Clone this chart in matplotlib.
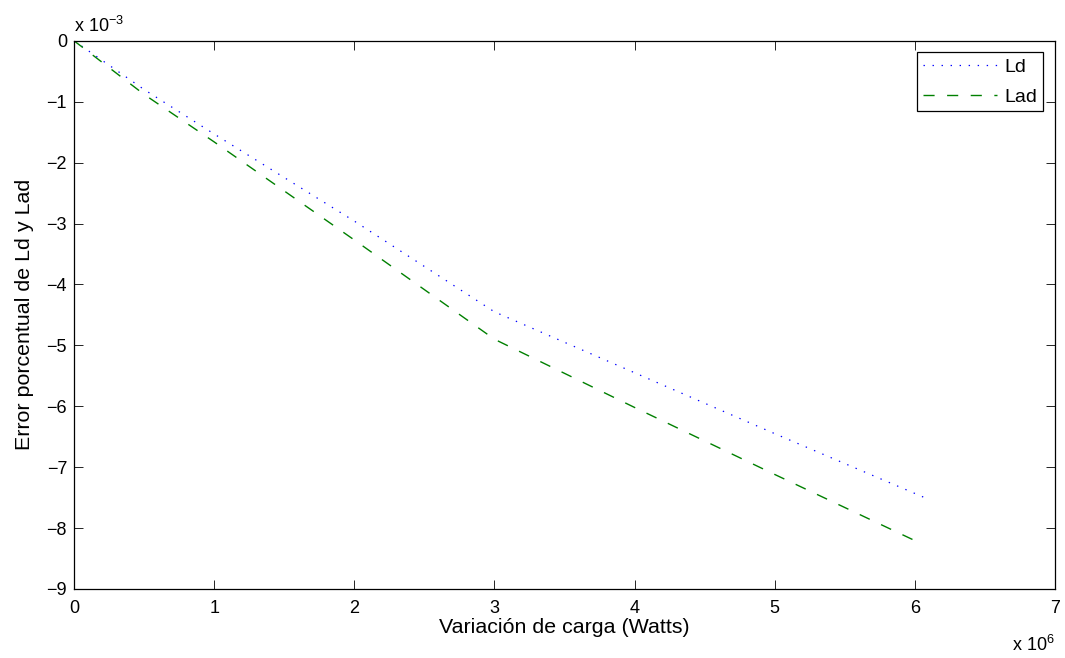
import matplotlib

matplotlib.use("Agg")
import matplotlib.pyplot as plt

# Load variation (x 10^6 W) and percent error (x 10^-3)
carga_ld = [0, 0.5, 1, 2, 3, 4, 5, 6.1]
error_ld = [0, -0.80, -1.53, -2.96, -4.45, -5.45, -6.45, -7.53]

carga_lad = [0, 0.5, 1, 2, 3, 4, 5, 6.05]
error_lad = [0, -0.88, -1.66, -3.27, -4.90, -6.02, -7.12, -8.26]

x_ticks = [0, 1, 2, 3, 4, 5, 6, 7]
y_ticks = [0, -1, -2, -3, -4, -5, -6, -7, -8, -9]

plt.rcParams["font.family"] = ["Liberation Sans", "DejaVu Sans"]
plt.rcParams["mathtext.fontset"] = "custom"
plt.rcParams["mathtext.rm"] = "Liberation Sans"
plt.rcParams["lines.scale_dashes"] = False

fig = plt.figure(figsize=(10.65, 6.58), dpi=100)
ax = fig.add_axes([0.0695, 0.105, 0.921, 0.833])

ax.plot(carga_ld, error_ld, color="#0000ff", linewidth=0.9,
        linestyle=(0, (1, 5.5)), label="Ld")
ax.plot(carga_lad, error_lad, color="#008000", linewidth=1.0,
        linestyle=(0, (8, 9)), label="Lad")

ax.set_xlim(0, 7)
ax.set_ylim(-9, 0)
ax.set_xticks(x_ticks)
ax.set_yticks(y_ticks)
ax.set_xticklabels([str(v) for v in x_ticks])
ax.set_yticklabels([("\u2212" + str(-v)) if v < 0 else str(v) for v in y_ticks])

ax.tick_params(direction="in", length=6.5, width=0.6, top=True, right=True,
               labelsize=13)
ax.tick_params(axis="x", pad=8)
ax.tick_params(axis="y", pad=5)
for sp in ax.spines.values():
    sp.set_linewidth(0.9)

ax.set_xlabel("Variación de carga (Watts)", fontsize=15.4, labelpad=1)
ax.set_ylabel("Error porcentual de Ld y Lad", fontsize=15.4, labelpad=9)

ax.text(0.0, 1.008, r"x 10$^{-3}$", transform=ax.transAxes, fontsize=13,
        ha="left", va="bottom")
ax.text(1.0, -0.103, r"x 10$^{6}$", transform=ax.transAxes, fontsize=13,
        ha="right", va="center")

leg = ax.legend(loc="upper right", fontsize=14, fancybox=False, framealpha=1,
                edgecolor="black", borderaxespad=0.6, handlelength=3.8,
                handletextpad=0.4, labelspacing=0.62, borderpad=0.3)
leg.get_frame().set_linewidth(0.9)

fig.savefig("out.png", dpi=100)
